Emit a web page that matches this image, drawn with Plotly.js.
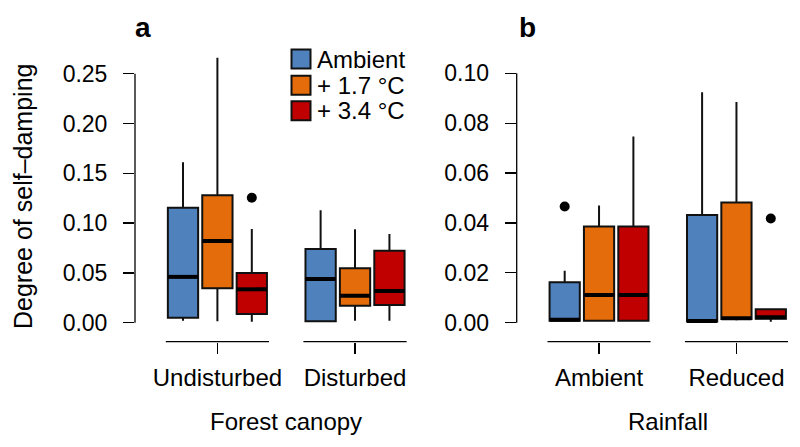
<!DOCTYPE html>
<html>
<head>
<meta charset="utf-8">
<script src="https://cdn.plot.ly/plotly-3.0.1.min.js"></script>
<style>html,body{margin:0;padding:0;background:#fff;}</style>
</head>
<body>
<div id="chart" style="width:800px;height:447px;"></div>
<script>
// ---------- data ----------
const treatments = ["Ambient", "+ 1.7 °C", "+ 3.4 °C"];
const canopyGroups = ["Undisturbed", "Disturbed"];
const rainGroups = ["Ambient", "Reduced"];

// panel a (forest canopy): [treatment][group]
const canopyLow  = [[0.002, 0.0014], [0.0015, 0.002], [0.001, 0.002]];
const canopyQ1   = [[0.005, 0.0014], [0.0345, 0.017], [0.0087, 0.0178]];
const canopyMed  = [[0.046, 0.0439], [0.082, 0.027], [0.0335, 0.0318]];
const canopyQ3   = [[0.1155, 0.074], [0.128, 0.0546], [0.050, 0.0723]];
const canopyHigh = [[0.161, 0.113], [0.266, 0.0938], [0.094, 0.089]];
const canopyOutliers = [[2, 0, 0.1255]]; // [treatment, group, value]

// panel b (rainfall): [treatment][group]
const rainLow  = [[0.0005, 0.0], [0.0005, 0.001], [0.0005, 0.0004]];
const rainQ1   = [[0.0008, 0.0005], [0.0008, 0.0015], [0.0008, 0.0016]];
const rainMed  = [[0.0012, 0.0007], [0.0111, 0.0018], [0.0111, 0.0022]];
const rainQ3   = [[0.0162, 0.0432], [0.0386, 0.0482], [0.0386, 0.0054]];
const rainHigh = [[0.0208, 0.0924], [0.047, 0.0885], [0.0747, 0.0054]];
const rainOutliers = [[0, 0, 0.0466], [2, 1, 0.0418]];

// ---------- style ----------
const colors = ["#4F81BD", "#E46C0A", "#C00000"];
const FONT = "Liberation Sans, Arial, sans-serif";
const BOXW = 0.88;
const W = 800, H = 447;
const px = v => v / W;
const py = v => 1 - v / H;

function pos(t, g) { return g * 4 + t + 1; }

const traces = [];
function addPanel(xa, ya, low, q1, med, q3, high, outliers) {
  const medX = [], medY = [];
  treatments.forEach((name, t) => {
    const xs = [0, 1].map(g => pos(t, g));
    traces.push({
      type: "box", xaxis: xa, yaxis: ya, name: name, showlegend: false,
      x: xs, q1: q1[t], median: med[t], q3: q3[t],
      lowerfence: low[t], upperfence: high[t],
      width: BOXW, whiskerwidth: 0, boxpoints: false,
      fillcolor: colors[t],
      line: { color: "#111", width: 2 },
      hoverinfo: "skip"
    });
    [0, 1].forEach(g => {
      medX.push(pos(t, g) - BOXW / 2, pos(t, g) + BOXW / 2, null);
      medY.push(med[t][g], med[t][g], null);
    });
  });
  traces.push({
    type: "scatter", mode: "lines", xaxis: xa, yaxis: ya, showlegend: false,
    x: medX, y: medY, line: { color: "#000", width: 4 }, hoverinfo: "skip"
  });
  traces.push({
    type: "scatter", mode: "markers", xaxis: xa, yaxis: ya, showlegend: false,
    x: outliers.map(o => pos(o[0], o[1])), y: outliers.map(o => o[2]),
    marker: { color: "#000", size: 10 }, hoverinfo: "skip"
  });
}
addPanel("x", "y", canopyLow, canopyQ1, canopyMed, canopyQ3, canopyHigh, canopyOutliers);
addPanel("x2", "y2", rainLow, rainQ1, rainMed, rainQ3, rainHigh, rainOutliers);

const yDom = [py(333), py(45)];
const axisPosY = py(341.7);
const yLineA = 135, yLineB = 516.7;

function xAxis(domain, range, groups) {
  return {
    domain: domain, range: range, anchor: "free", position: axisPosY,
    tickmode: "array", tickvals: [2, 6], ticktext: groups,
    ticks: "outside", ticklen: 11, tickwidth: 1.3, tickcolor: "#000",
    ticklabelstandoff: 3,
    showline: false, showgrid: false, zeroline: false,
    tickfont: { family: FONT, size: 24, color: "#000" }
  };
}
function yAxis(anchor, range, dtick) {
  return {
    domain: yDom, range: range, anchor: anchor,
    tick0: 0, dtick: dtick, ticks: "outside", ticklen: 11, tickwidth: 1.3, tickcolor: "#000",
    ticklabelstandoff: 11,
    showline: false, showgrid: false, zeroline: false,
    tickformat: ".2f",
    tickfont: { family: FONT, size: 23, color: "#000" }
  };
}

const shapes = [];
const annotations = [];
// y axis lines (R style, only over tick span)
shapes.push({ type: "line", xref: "paper", yref: "y", x0: px(yLineA), x1: px(yLineA), y0: 0, y1: 0.25, line: { color: "#000", width: 1.3 } });
shapes.push({ type: "line", xref: "paper", yref: "y2", x0: px(yLineB), x1: px(yLineB), y0: 0, y1: 0.10, line: { color: "#000", width: 1.3 } });
// x axis segments
["x", "x2"].forEach(xr => {
  [0, 1].forEach(g => {
    shapes.push({ type: "line", xref: xr, yref: "paper", x0: g * 4 + 0.5, x1: g * 4 + 3.5, y0: axisPosY, y1: axisPosY, line: { color: "#000", width: 1.3 } });
  });
});
// legend
const legRows = [59, 85.2, 110.7];
treatments.forEach((name, t) => {
  shapes.push({ type: "rect", xref: "paper", yref: "paper",
    x0: px(291.5), x1: px(310.5), y0: py(legRows[t] + 9.5), y1: py(legRows[t] - 9.5),
    fillcolor: colors[t], line: { color: "#111", width: 2 } });
  annotations.push({ xref: "paper", yref: "paper", x: px(315), y: py(legRows[t]),
    xanchor: "left", yanchor: "middle", showarrow: false, text: name,
    font: { family: FONT, size: 24, color: "#000" } });
});
// titles
annotations.push({ xref: "paper", yref: "paper", x: px(23), y: py(197), textangle: -90,
  showarrow: false, text: "Degree of self–damping", xanchor: "center", yanchor: "middle",
  font: { family: FONT, size: 25, color: "#000" } });
annotations.push({ xref: "x", yref: "paper", x: 4, y: py(421), showarrow: false,
  text: "Forest canopy", xanchor: "center", yanchor: "middle",
  font: { family: FONT, size: 24, color: "#000" } });
annotations.push({ xref: "x2", yref: "paper", x: 4, y: py(421), showarrow: false,
  text: "Rainfall", xanchor: "center", yanchor: "middle",
  font: { family: FONT, size: 24, color: "#000" } });
annotations.push({ xref: "paper", yref: "paper", x: px(143), y: py(27), showarrow: false,
  text: "<b>a</b>", xanchor: "center", yanchor: "middle",
  font: { family: FONT, size: 28, color: "#000" } });
annotations.push({ xref: "paper", yref: "paper", x: px(527), y: py(27), showarrow: false,
  text: "<b>b</b>", xanchor: "center", yanchor: "middle",
  font: { family: FONT, size: 28, color: "#000" } });

const layout = {
  width: W, height: H,
  margin: { l: 0, r: 0, t: 0, b: 0 },
  paper_bgcolor: "#fff", plot_bgcolor: "#fff",
  showlegend: false,
  xaxis: xAxis([px(yLineA), px(420.4)], [-0.395, 7.9], canopyGroups),
  yaxis: yAxis("x", [-0.01034, 0.2788], 0.05),
  xaxis2: xAxis([px(yLineB), px(800)], [-0.397, 7.85], rainGroups),
  yaxis2: yAxis("x2", [-0.00413, 0.11135], 0.02),
  shapes: shapes,
  annotations: annotations
};

Plotly.newPlot("chart", traces, layout, { staticPlot: true, displayModeBar: false });
</script>
</body>
</html>
